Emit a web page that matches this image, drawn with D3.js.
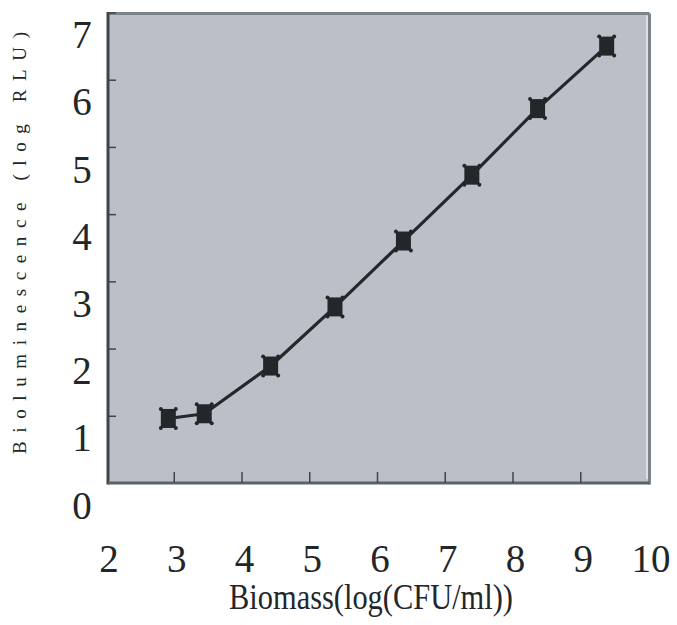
<!DOCTYPE html>
<html>
<head>
<meta charset="utf-8">
<script src="https://cdn.jsdelivr.net/npm/d3@7"></script>
<style>
  html, body { margin: 0; padding: 0; background: #ffffff; }
  svg { display: block; }
  svg text { font-family: "Liberation Serif", "Times New Roman", Times, serif; }
</style>
</head>
<body>
<svg id="chart" width="677" height="625"></svg>
<script>
// ---- data ----
const biomass = [2.92, 3.45, 4.43, 5.38, 6.39, 7.40, 8.37, 9.39];
const luminescence = [0.96, 1.03, 1.74, 2.62, 3.60, 4.58, 5.57, 6.50];
const xTicks = [2, 3, 4, 5, 6, 7, 8, 9, 10];
const yTicks = [0, 1, 2, 3, 4, 5, 6, 7];
const xTitle = "Biomass(log(CFU/ml))";
const yTitle = "Bioluminescence (log RLU)";

(function () {
const svg = d3.select("#chart");
const x = d3.scaleLinear().domain([2, 10]).range([106, 648]);
const y = d3.scaleLinear().domain([0, 7]).range([483, 12.5]);

const pLeft = x(2) + 2, pRight = x(10), pTop = y(7) + 1, pBottom = y(0);

// plot background
svg.append("rect")
  .attr("x", pLeft).attr("y", pTop)
  .attr("width", pRight - pLeft).attr("height", pBottom - pTop)
  .attr("fill", "#bdbfc8");

// frame: top & right lighter, left & bottom darker
svg.append("line").attr("x1", pLeft).attr("x2", pRight + 1.5).attr("y1", pTop).attr("y2", pTop)
  .attr("stroke", "#7c8489").attr("stroke-width", 3);
svg.append("line").attr("x1", pRight + 1.5).attr("x2", pRight + 1.5).attr("y1", pTop).attr("y2", pBottom + 1.5)
  .attr("stroke", "#7c8489").attr("stroke-width", 3);
svg.append("line").attr("x1", pRight - 1).attr("x2", pRight - 1).attr("y1", pTop + 2).attr("y2", pBottom - 4)
  .attr("stroke", "#ffffff").attr("stroke-width", 1);
svg.append("line").attr("x1", pLeft).attr("x2", pLeft).attr("y1", pTop - 1.5).attr("y2", pBottom + 1.5)
  .attr("stroke", "#3f464b").attr("stroke-width", 3);
svg.append("line").attr("x1", pLeft).attr("x2", pRight + 1.5).attr("y1", pBottom).attr("y2", pBottom)
  .attr("stroke", "#5b6368").attr("stroke-width", 3);

// axes (inner ticks)
const xAxis = svg.append("g")
  .attr("transform", `translate(0,${pBottom})`)
  .call(d3.axisBottom(x).tickValues(xTicks.slice(1, -1)).tickSize(-11).tickFormat(""));
xAxis.select(".domain").remove();
xAxis.selectAll(".tick line").attr("stroke", "#3f464b").attr("stroke-width", 1.5);

const yAxis = svg.append("g")
  .attr("transform", `translate(${pLeft},0)`)
  .call(d3.axisLeft(y).tickValues(yTicks.slice(1)).tickSize(-8).tickFormat(""));
yAxis.select(".domain").remove();
yAxis.selectAll(".tick line").attr("stroke", "#3f464b").attr("stroke-width", 1.5);

// tick labels
svg.append("g").selectAll("text").data(xTicks).join("text")
  .attr("x", d => x(d) + 3)
  .attr("y", 572)
  .attr("text-anchor", "middle")
  .attr("font-size", 39)
  .attr("fill", "#222629")
  .text(d => d);

svg.append("g").selectAll("text").data(yTicks).join("text")
  .attr("x", 82)
  .attr("y", d => y(d) + 22)
  .attr("dy", "0.35em")
  .attr("text-anchor", "middle")
  .attr("font-size", 39)
  .attr("fill", "#222629")
  .text(d => d);

// axis titles
svg.append("text")
  .attr("x", 371).attr("y", 609)
  .attr("text-anchor", "middle")
  .attr("font-size", 36)
  .attr("textLength", 284)
  .attr("lengthAdjust", "spacingAndGlyphs")
  .attr("fill", "#222629")
  .text(xTitle);

svg.append("text")
  .attr("transform", "translate(26,454) rotate(-90)")
  .attr("x", 0).attr("y", 0)
  .attr("text-anchor", "start")
  .attr("font-size", 19)
  .attr("textLength", 422)
  .attr("lengthAdjust", "spacing")
  .attr("fill", "#222629")
  .text(yTitle);

// data line
const pts = biomass.map((b, i) => [b, luminescence[i]]);
svg.append("path")
  .datum(pts)
  .attr("fill", "none")
  .attr("stroke", "#23282b")
  .attr("stroke-width", 3.2)
  .attr("stroke-linejoin", "round")
  .attr("d", d3.line().x(d => x(d[0])).y(d => y(d[1])).curve(d3.curveLinear));

// markers
const mw = 15, mh = 19;
const mk = svg.append("g").selectAll("g").data(pts).join("g")
  .attr("transform", d => `translate(${x(d[0])},${y(d[1])})`);
mk.append("rect")
  .attr("x", -mw / 2).attr("y", -mh / 2)
  .attr("width", mw).attr("height", mh)
  .attr("fill", "#22272a");
mk.selectAll("circle").data([[-1, -1], [1, -1], [-1, 1], [1, 1]]).join("circle")
  .attr("cx", c => c[0] * mw / 2).attr("cy", c => c[1] * mh / 2)
  .attr("r", 2).attr("fill", "#22272a");
})();
</script>
</body>
</html>
